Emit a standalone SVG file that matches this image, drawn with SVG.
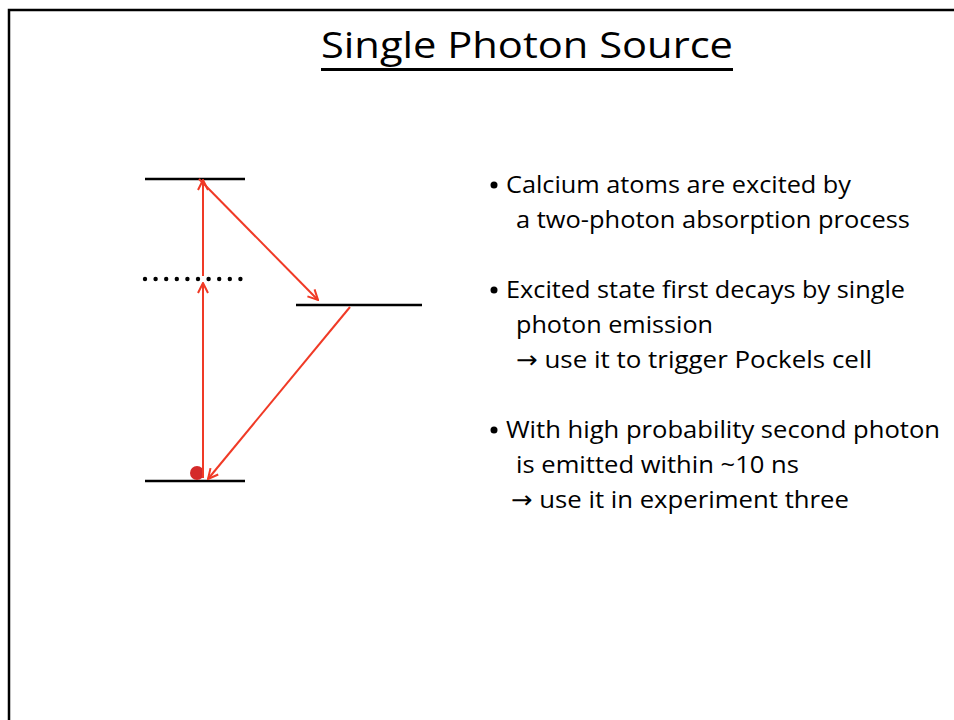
<svg xmlns="http://www.w3.org/2000/svg" width="954" height="720" viewBox="0 0 954 720">
<style>
.lvl{stroke:#000;stroke-width:2.5;fill:none}
.ph{stroke:#f03a26;stroke-width:2;fill:none;marker-end:url(#ah)}
.t{font-family:"Open Sans","Noto Sans",sans-serif;font-size:24px;fill:#000}
.ar{font-family:"DejaVu Sans",sans-serif}
.title{font-family:"Open Sans","Noto Sans",sans-serif;font-size:36px;fill:#000}
</style>
<defs>
<marker id="ah" viewBox="0 0 12 12" refX="11" refY="6" markerWidth="12" markerHeight="12" markerUnits="userSpaceOnUse" orient="auto">
<path d="M1,1 L11,6 L1,11" fill="none" stroke="#f03a26" stroke-width="2"/>
</marker>
</defs>
<rect width="954" height="720" fill="#fff"/>
<path d="M9,720 V10 H954" fill="none" stroke="#000" stroke-width="2.5"/>
<g id="title">
<text class="title" x="321" y="58" textLength="412" lengthAdjust="spacingAndGlyphs">Single Photon Source</text>
<rect x="321" y="68" width="412" height="3" fill="#000"/>
</g>
<g id="level-top"><line class="lvl" x1="145" y1="179" x2="245" y2="179"/></g>
<g id="level-virtual"><g fill="#000">
<circle cx="145" cy="279" r="2.2"/><circle cx="155.6" cy="279" r="2.2"/><circle cx="166.2" cy="279" r="2.2"/><circle cx="176.8" cy="279" r="2.2"/><circle cx="187.4" cy="279" r="2.2"/><circle cx="198" cy="279" r="2.2"/><circle cx="208.6" cy="279" r="2.2"/><circle cx="219.2" cy="279" r="2.2"/><circle cx="229.8" cy="279" r="2.2"/><circle cx="240.4" cy="279" r="2.2"/>
</g></g>
<g id="level-middle"><line class="lvl" x1="296" y1="305" x2="422" y2="305"/></g>
<g id="level-ground"><line class="lvl" x1="145" y1="481" x2="245" y2="481"/>
<circle cx="197" cy="473" r="7" fill="#d42a2a"/></g>
<g id="connectors">
<line class="ph" x1="203" y1="478" x2="203" y2="283"/>
<line class="ph" x1="203" y1="276" x2="203" y2="180"/>
<line class="ph" x1="199" y1="179" x2="318" y2="300"/>
<line class="ph" x1="350" y1="307" x2="208" y2="479"/>
</g>
<g id="bullets">
<circle cx="494" cy="185" r="3.5" fill="#000"/>
<circle cx="494" cy="290" r="3.5" fill="#000"/>
<circle cx="494" cy="430" r="3.5" fill="#000"/>
<text class="t" x="506" y="193" textLength="345" lengthAdjust="spacingAndGlyphs">Calcium atoms are excited by</text>
<text class="t" x="516" y="228" textLength="394" lengthAdjust="spacingAndGlyphs">a two-photon absorption process</text>
<text class="t" x="506" y="298" textLength="399" lengthAdjust="spacingAndGlyphs">Excited state first decays by single</text>
<text class="t" x="516" y="333" textLength="197" lengthAdjust="spacingAndGlyphs">photon emission</text>
<text class="t" x="516" y="368" textLength="356" lengthAdjust="spacingAndGlyphs"><tspan class="ar">→</tspan> use it to trigger Pockels cell</text>
<text class="t" x="506" y="438" textLength="434" lengthAdjust="spacingAndGlyphs">With high probability second photon</text>
<text class="t" x="516" y="473" textLength="283" lengthAdjust="spacingAndGlyphs">is emitted within ~10 ns</text>
<text class="t" x="511" y="508" textLength="338" lengthAdjust="spacingAndGlyphs"><tspan class="ar">→</tspan> use it in experiment three</text>
</g>
</svg>
